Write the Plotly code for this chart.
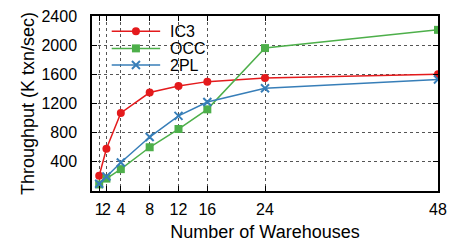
import plotly.graph_objects as go

warehouses = [1, 2, 4, 8, 12, 16, 24, 48]
ic3 = [210, 580, 1070, 1350, 1440, 1500, 1550, 1600]
occ = [90, 170, 300, 600, 850, 1120, 1960, 2210]
tpl = [100, 200, 390, 740, 1030, 1220, 1410, 1530]
series_names = ["IC3", "OCC", "2PL"]
colors = ["#e41a1c", "#4daf4a", "#377eb8"]
y_ticks = [0, 400, 800, 1200, 1600, 2000, 2400]
y_labels = ["", "400", "800", "1200", "1600", "2000", "2400"]

font = "Liberation Sans, Arial, sans-serif"

fig = go.Figure()
fig.add_trace(go.Scatter(x=warehouses, y=ic3, name="IC3", mode="lines+markers",
                         line=dict(color=colors[0], width=1.5),
                         marker=dict(symbol="circle", size=8, color=colors[0])))
fig.add_trace(go.Scatter(x=warehouses, y=occ, name="OCC", mode="lines+markers",
                         line=dict(color=colors[1], width=1.5),
                         marker=dict(symbol="square", size=8, color=colors[1])))
fig.add_trace(go.Scatter(x=warehouses, y=tpl, name="2PL", mode="lines+markers",
                         line=dict(color=colors[2], width=1.5),
                         marker=dict(symbol="x-thin", size=8, color=colors[2],
                                     line=dict(color=colors[2], width=2))))

# manual legend (compact, gnuplot style)
leg_y = [0.913, 0.815, 0.72]
lx0, lx1, mx, tx = 0.057, 0.197, 0.127, 0.22
shapes = [dict(type="rect", xref="x domain", yref="y domain", layer="below",
               x0=0.03, x1=0.385, y0=0.665, y1=0.975,
               fillcolor="white", line=dict(width=0))]
annotations = []
for i, (nm, c, yy) in enumerate(zip(series_names, colors, leg_y)):
    shapes.append(dict(type="line", xref="paper", yref="paper", x0=lx0, x1=lx1,
                       y0=yy, y1=yy, line=dict(color=c, width=1.5)))
    if i == 0:
        shapes.append(dict(type="circle", xref="paper", yref="paper",
                           xsizemode="pixel", ysizemode="pixel", xanchor=mx, yanchor=yy,
                           x0=-4, x1=4, y0=-4, y1=4, fillcolor=c, line=dict(color=c, width=0)))
    elif i == 1:
        shapes.append(dict(type="rect", xref="paper", yref="paper",
                           xsizemode="pixel", ysizemode="pixel", xanchor=mx, yanchor=yy,
                           x0=-4, x1=4, y0=-4, y1=4, fillcolor=c, line=dict(color=c, width=0)))
    else:
        for s in (1, -1):
            shapes.append(dict(type="line", xref="paper", yref="paper",
                               xsizemode="pixel", ysizemode="pixel", xanchor=mx, yanchor=yy,
                               x0=-4, x1=4, y0=-4 * s, y1=4 * s, line=dict(color=c, width=2)))
    annotations.append(dict(text=nm, xref="paper", yref="paper", x=tx, y=yy,
                            xanchor="left", yanchor="middle", showarrow=False,
                            font=dict(size=16, family=font, color="black")))

fig.update_layout(
    width=451, height=245,
    margin=dict(l=92, r=13, t=16, b=54),
    paper_bgcolor="white", plot_bgcolor="white",
    font=dict(family=font, size=16, color="black"),
    showlegend=False,
    shapes=shapes, annotations=annotations,
    xaxis=dict(range=[0, 48], tickmode="array", tickvals=warehouses,
               ticktext=[str(w) for w in warehouses], tickangle=0, automargin=False,
               ticks="inside", ticklen=5, tickcolor="black", mirror="ticks",
               showline=True, linecolor="black", linewidth=1.5,
               showgrid=True, gridcolor="#555", griddash="dot", gridwidth=1,
               zeroline=False, ticklabelstandoff=3,
               title=dict(text="Number of Warehouses", font=dict(size=18), standoff=8)),
    yaxis=dict(range=[0, 2400], tickmode="array", tickvals=y_ticks, ticktext=y_labels,
               ticks="inside", ticklen=5, tickcolor="black", mirror="ticks", automargin=False,
               showline=True, linecolor="black", linewidth=1.5,
               showgrid=True, gridcolor="#555", griddash="dot", gridwidth=1,
               zeroline=False, ticklabelstandoff=10,
               title=dict(text="Throughput (K txn/sec)", font=dict(size=18), standoff=2)),
)

fig.write_html("out.html", config={"displayModeBar": False},
               post_script="document.body.style.margin='0px';")
